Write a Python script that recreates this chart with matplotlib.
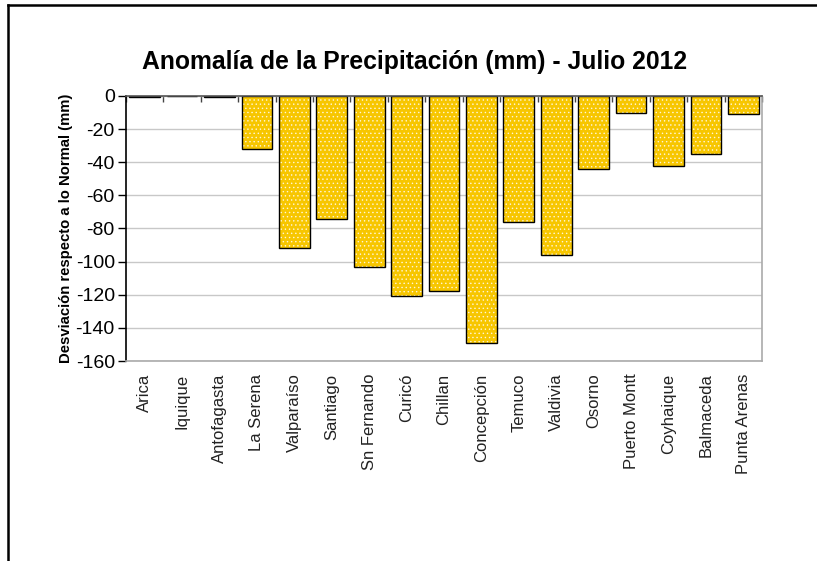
import matplotlib
matplotlib.use("Agg")
import matplotlib.pyplot as plt
import numpy as np
from matplotlib.lines import Line2D

# --- Data ---
stations = ["Arica", "Iquique", "Antofagasta", "La Serena", "Valparaíso", "Santiago",
            "Sn Fernando", "Curicó", "Chillan", "Concepción", "Temuco", "Valdivia",
            "Osorno", "Puerto Montt", "Coyhaique", "Balmaceda", "Punta Arenas"]
anomaly = [-0.5, 0.0, -0.5, -32, -92, -74, -103, -121, -118, -149, -76, -96,
           -44, -10, -42, -35, -11]
yticks = [0, -20, -40, -60, -80, -100, -120, -140, -160]

plt.rcParams["font.family"] = ["Liberation Sans", "DejaVu Sans"]
plt.rcParams["hatch.linewidth"] = 0.5

fig = plt.figure(figsize=(8.17, 5.61), dpi=100)
ax = fig.add_axes([0.1542, 0.3565, 0.7785, 0.4724])

x = np.arange(len(stations))
# fill with white dot pattern, then black outline on top
ax.bar(x, anomaly, width=0.82, color="#F7C600", edgecolor="#fff6d8", linewidth=0,
       hatch="....", zorder=3)
ax.bar(x, anomaly, width=0.82, fill=False, edgecolor="black", linewidth=1.0, zorder=4)

ax.set_xlim(-0.5, len(stations) - 0.5)
ax.set_ylim(-160, 0)
ax.set_yticks(yticks)
ax.set_yticklabels([str(v) for v in yticks], fontsize=14)
ax.yaxis.grid(True, color="#c8c8c8", linewidth=1.0, zorder=0)
ax.tick_params(axis="y", direction="out", length=6, width=1, color="black", pad=2)

ax.set_xticks(x)
ax.set_xticklabels(stations, rotation=90, fontsize=12, color="#222222")
ax.tick_params(axis="x", which="major", length=0, pad=9)
ax.set_xticks(np.arange(len(stations) + 1) - 0.5, minor=True)
ax.tick_params(axis="x", which="minor", bottom=False, top=True, direction="in",
               length=4, width=1, color="#444444")

ax.spines["left"].set_color("black")
ax.spines["top"].set_color("#555555")
ax.spines["right"].set_color("#aaaaaa")
ax.spines["bottom"].set_color("#aaaaaa")
for s in ax.spines.values():
    s.set_linewidth(1.2)
    s.set_zorder(5)

ax.set_ylabel("Desviación respecto a lo Normal (mm)", fontsize=10.7, fontweight="bold",
              labelpad=2)
fig.text(0.508, 0.889, "Anomalía de la Precipitación (mm) - Julio 2012",
         ha="center", va="center", fontsize=17.8, fontweight="bold")

# outer frame (top and left edge only visible)
fig.add_artist(Line2D([0.0092, 0.0092], [0, 0.9917], transform=fig.transFigure,
                      color="black", linewidth=1.8))
fig.add_artist(Line2D([0.0092, 1.0], [0.9917, 0.9917], transform=fig.transFigure,
                      color="black", linewidth=1.8))

fig.savefig("out.png", dpi=100)
